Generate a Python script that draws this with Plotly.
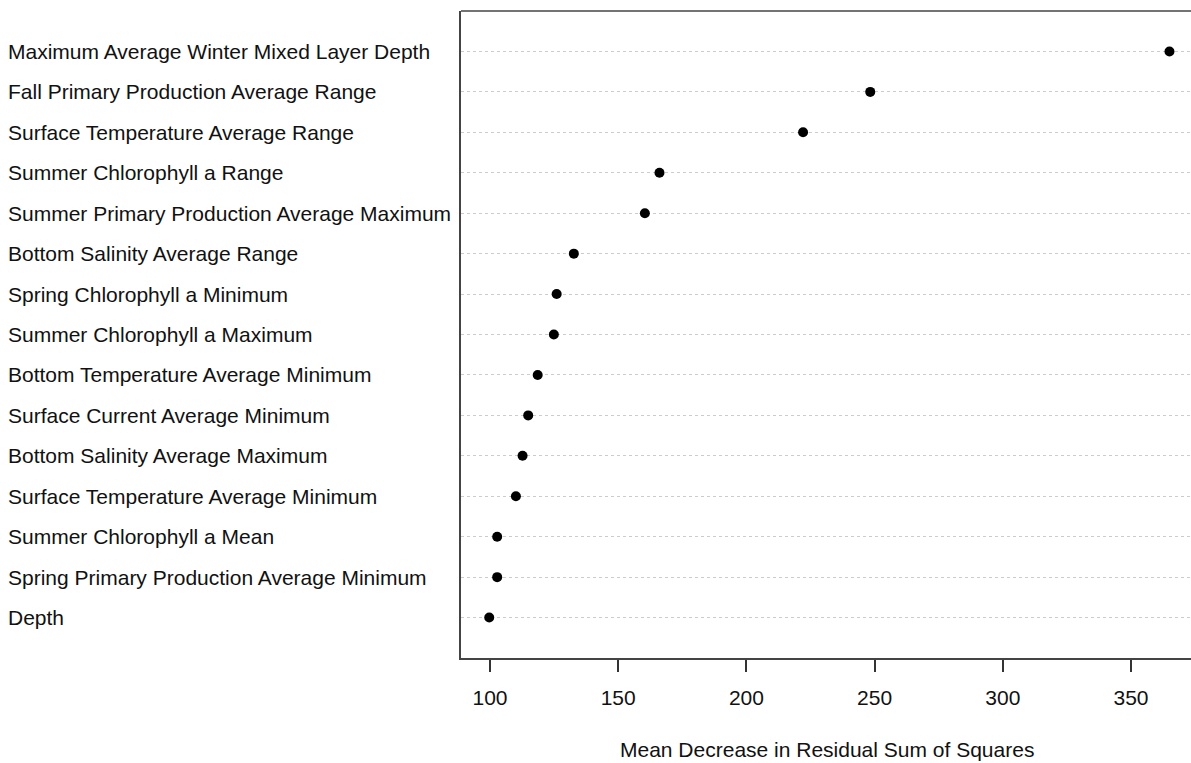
import plotly.graph_objects as go

categories = [
    "Maximum Average Winter Mixed Layer Depth",
    "Fall Primary Production Average Range",
    "Surface Temperature Average Range",
    "Summer Chlorophyll a Range",
    "Summer Primary Production Average Maximum",
    "Bottom Salinity Average Range",
    "Spring Chlorophyll a Minimum",
    "Summer Chlorophyll a Maximum",
    "Bottom Temperature Average Minimum",
    "Surface Current Average Minimum",
    "Bottom Salinity Average Maximum",
    "Surface Temperature Average Minimum",
    "Summer Chlorophyll a Mean",
    "Spring Primary Production Average Minimum",
    "Depth",
]
values = [365.0, 248.3, 222.1, 166.1, 160.4, 132.7, 126.0, 124.9, 118.6,
          114.9, 112.7, 110.1, 102.8, 102.8, 99.7]
x_ticks = [100, 150, 200, 250, 300, 350]
x_title = "Mean Decrease in Residual Sum of Squares"

n = len(categories)
ypos = [n - i for i in range(n)]

FONT = "Liberation Sans, Arial, sans-serif"
W, H = 1191, 763
ML, MR, MT = 461, 0, 11
PLOT_BOTTOM = 658
MB = H - PLOT_BOTTOM
pw = W - ML - MR
ph = H - MT - MB
PX_PER_UNIT = 2.564
X100 = 490

fig = go.Figure()
fig.add_trace(go.Scatter(
    x=values, y=ypos, mode="markers",
    marker=dict(color="black", size=10, line=dict(width=0)),
    showlegend=False, hoverinfo="x",
))

for cat, y in zip(categories, ypos):
    fig.add_annotation(
        text=cat, xref="paper", yref="y", x=(8 - 2 - ML) / pw, y=y,
        xanchor="left", yanchor="middle", showarrow=False,
        font=dict(family=FONT, size=21, color="#111111"),
    )

fig.add_annotation(
    text=x_title, xref="paper", yref="paper",
    x=(827 - ML) / pw, y=(PLOT_BOTTOM - 749) / ph,
    xanchor="center", yanchor="middle", showarrow=False,
    font=dict(family=FONT, size=21, color="#111111"),
)

fig.add_shape(type="line", xref="paper", yref="paper", x0=0, x1=1, y0=1, y1=1,
              line=dict(color="#444444", width=1.5))

fig.update_layout(
    width=W, height=H,
    margin=dict(l=ML, r=MR, t=MT, b=MB),
    paper_bgcolor="white", plot_bgcolor="white",
    xaxis=dict(
        range=[100 + (ML - X100) / PX_PER_UNIT, 100 + (W - X100) / PX_PER_UNIT],
        tickvals=x_ticks, ticktext=[str(t) for t in x_ticks],
        showgrid=False, zeroline=False,
        showline=True, linecolor="#444444", linewidth=1.5,
        ticks="outside", ticklen=12, tickwidth=1.5, tickcolor="#333333",
        ticklabelstandoff=8,
        tickfont=dict(family=FONT, size=21, color="#111111"),
    ),
    yaxis=dict(
        range=[0, n + 1],
        tickvals=ypos, showticklabels=False, ticks="",
        showgrid=True, gridcolor="#cccccc", gridwidth=1, griddash="dot",
        zeroline=False,
        showline=True, linecolor="#444444", linewidth=1.5,
    ),
)

fig.write_html(
    "out.html",
    config={"displayModeBar": False},
    post_script="document.body.style.margin='0';document.body.style.overflow='hidden';",
)
